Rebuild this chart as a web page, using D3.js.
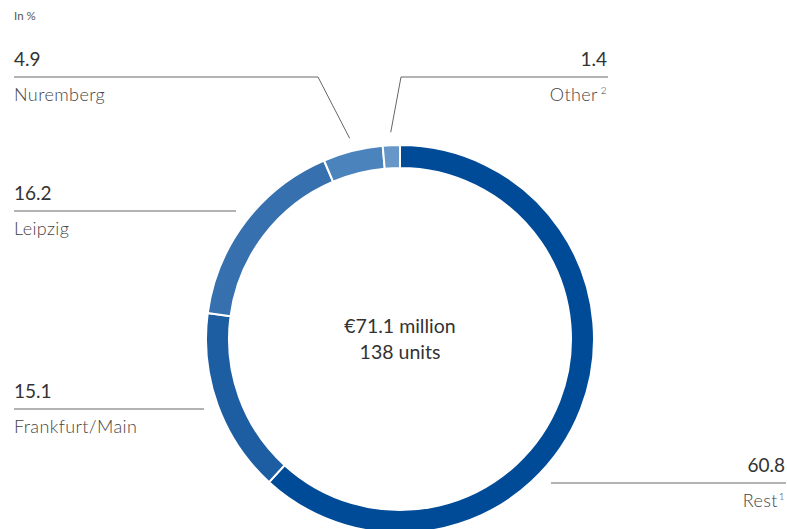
<!DOCTYPE html>
<html>
<head>
<meta charset="utf-8">
<script src="https://cdn.jsdelivr.net/npm/d3@7"></script>
<style>
  html, body { margin: 0; padding: 0; background: #fff; }
  svg { display: block; font-family: Lato, "Open Sans", sans-serif; }
</style>
</head>
<body>
<svg id="chart" width="787" height="529"></svg>
<script>
// Share of rental income by location, in %
const categories = ["Rest", "Frankfurt/Main", "Leipzig", "Nuremberg", "Other"];
const footnotes  = ["1", "", "", "", "2"];
const shares     = [60.8, 15.1, 16.2, 4.9, 1.4];
const centerLines = ["€71.1 million", "138 units"];

const colors = ["#004b97", "#1d5ea3", "#3770ae", "#4b83bd", "#6796c8"];

// Label placement: where the value/name pair sits and how its leader line runs
const labelLayout = [
  { x: 785, anchor: "end",   lineY: 483, lineX0: 551, lineX1: 786, bend: false },
  { x: 14,  anchor: "start", lineY: 409, lineX0: 14,  lineX1: 204, bend: false },
  { x: 14,  anchor: "start", lineY: 211, lineX0: 14,  lineX1: 236, bend: false },
  { x: 14,  anchor: "start", lineY: 77,  lineX0: 14,  lineX1: 318, bend: true },
  { x: 607, anchor: "end",   lineY: 77,  lineX0: 401, lineX1: 608, bend: true }
];

const svg = d3.select("#chart");
const cx = 400, cy = 339;
const outerR = 194, innerR = 171;

svg.append("text")
  .attr("x", 14).attr("y", 20)
  .attr("font-size", 11.5).attr("fill", "#555")
  .text("In %");

const data = categories.map((c, i) => ({ name: c, value: shares[i], note: footnotes[i], i }));

const pie = d3.pie().value(d => d.value).sort(null);
const arcs = pie(data);
const arc = d3.arc().innerRadius(innerR).outerRadius(outerR);

const g = svg.append("g").attr("transform", `translate(${cx},${cy})`);
g.selectAll("path.slice")
  .data(arcs)
  .join("path")
  .attr("class", "slice")
  .attr("d", arc)
  .attr("fill", d => colors[d.data.i])
  .attr("stroke", "#fff")
  .attr("stroke-width", 2);

// Leader lines and labels
const tipArc = d3.arc().innerRadius(207).outerRadius(207);
arcs.forEach(a => {
  const L = labelLayout[a.data.i];
  const line = svg.append("path")
    .attr("fill", "none")
    .attr("stroke", "#666")
    .attr("stroke-width", 1);
  if (L.bend) {
    const [tx, ty] = tipArc.centroid(a);
    const kneeX = L.anchor === "start" ? L.lineX1 : L.lineX0;
    const far = L.anchor === "start" ? L.lineX0 : L.lineX1;
    line.attr("d", `M${far},${L.lineY}H${kneeX}L${cx + tx},${cy + ty}`);
  } else {
    line.attr("d", `M${L.lineX0},${L.lineY}H${L.lineX1}`);
  }

  svg.append("text")
    .attr("x", L.x).attr("y", L.lineY - 11)
    .attr("text-anchor", L.anchor)
    .attr("font-size", 19).attr("fill", "#333")
    .text(d3.format(".1f")(a.data.value));

  const name = svg.append("text")
    .attr("x", L.x).attr("y", L.lineY + 24)
    .attr("text-anchor", L.anchor)
    .attr("font-size", 18).attr("font-weight", 300)
    .attr("letter-spacing", 0.4)
    .attr("fill", "#444")
    .text(a.data.name);
  if (a.data.note) {
    name.append("tspan")
      .attr("dx", a.data.note === "2" ? 3 : 1)
      .attr("dy", -7)
      .attr("font-size", 10)
      .text(a.data.note);
  }
});

// Centre caption
svg.append("g")
  .selectAll("text")
  .data(centerLines)
  .join("text")
  .attr("x", cx)
  .attr("y", (d, i) => 333 + i * 26)
  .attr("text-anchor", "middle")
  .attr("font-size", 19.5)
  .attr("fill", "#333")
  .text(d => d);
</script>
</body>
</html>
